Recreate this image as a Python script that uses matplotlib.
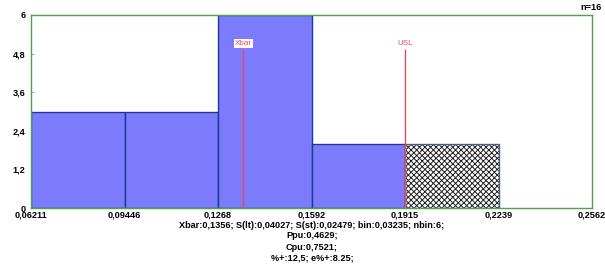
import matplotlib.pyplot as plt
from matplotlib.ticker import FixedLocator, FuncFormatter

# data
bin_edges = [0.06211, 0.09446, 0.1268, 0.1592, 0.1915, 0.2239, 0.2562]
edge_labels = ["0,06211", "0,09446", "0,1268", "0,1592", "0,1915", "0,2239", "0,2562"]
counts = [3, 3, 6, 2, 2, 0]
xbar = 0.1356
usl = 0.1915
y_ticks = [0, 1.2, 2.4, 3.6, 4.8, 6]
n_total = 16
stats_lines = [
    "Xbar:0,1356; S(lt):0,04027; S(st):0,02479; bin:0,03235; nbin:6;",
    "Ppu:0,4629;",
    "Cpu:0,7521;",
    "%+:12,5; e%+:8.25;",
]

plt.rcParams["font.family"] = ["Liberation Sans", "DejaVu Sans"]
plt.rcParams["hatch.linewidth"] = 0.7

fig = plt.figure(figsize=(6.05, 2.75), dpi=100)
ax = fig.add_axes([31 / 605, 1 - 208 / 275, (592 - 31) / 605, (208 - 15) / 275])

fill = "#7b7bfb"
edge = "#1c3a94"
for i, c in enumerate(counts):
    left, right = bin_edges[i], bin_edges[i + 1]
    if c == 0:
        continue
    if left >= usl:
        # out of spec -> checkered
        ax.bar(left, c, width=right - left, align="edge", color="white",
               edgecolor="#222222", hatch="xxxxxx", linewidth=0, zorder=2)
        ax.bar(left, c, width=right - left, align="edge", color="none",
               edgecolor="#4a5e8a", linewidth=1.0, zorder=3)
    else:
        ax.bar(left, c, width=right - left, align="edge", color=fill,
               edgecolor=edge, linewidth=1.0, zorder=2)

# reference lines
line_top = 4.92
for xv, name in [(xbar, "Xbar"), (usl, "USL")]:
    ax.plot([xv, xv], [0, line_top], color="#e8485a", lw=1.0, zorder=4)
    ax.text(xv, line_top + 0.08, name, color="#e8485a", fontsize=5.8,
            ha="center", va="bottom", zorder=5,
            bbox=dict(facecolor="white", edgecolor="none", pad=0.5))

ax.set_xlim(bin_edges[0], bin_edges[-1])
ax.set_ylim(0, 6)
ax.xaxis.set_major_locator(FixedLocator(bin_edges))
ax.set_xticklabels(edge_labels)
ax.yaxis.set_major_locator(FixedLocator(y_ticks))
ax.yaxis.set_major_formatter(FuncFormatter(lambda v, p: ("%g" % v).replace(".", ",")))
ax.tick_params(axis="x", length=0, pad=2, labelsize=6.6)
ax.tick_params(axis="y", direction="in", length=2, width=0.6, pad=4,
               labelsize=6.6, color="#999999")
for lbl in ax.get_xticklabels() + ax.get_yticklabels():
    lbl.set_fontweight("bold")
for s in ax.spines.values():
    s.set_color("#4ea24e")
    s.set_linewidth(1.0)

fig.text(602 / 605, 1 - 7 / 275, "n=%d" % n_total, ha="right", va="center",
         fontsize=6.6, fontweight="bold")
for k, line in enumerate(stats_lines):
    fig.text(312 / 605, 1 - (225 + 11 * k) / 275, line, ha="center", va="center",
             fontsize=6.6, fontweight="bold")

fig.savefig("out.png", dpi=100)
